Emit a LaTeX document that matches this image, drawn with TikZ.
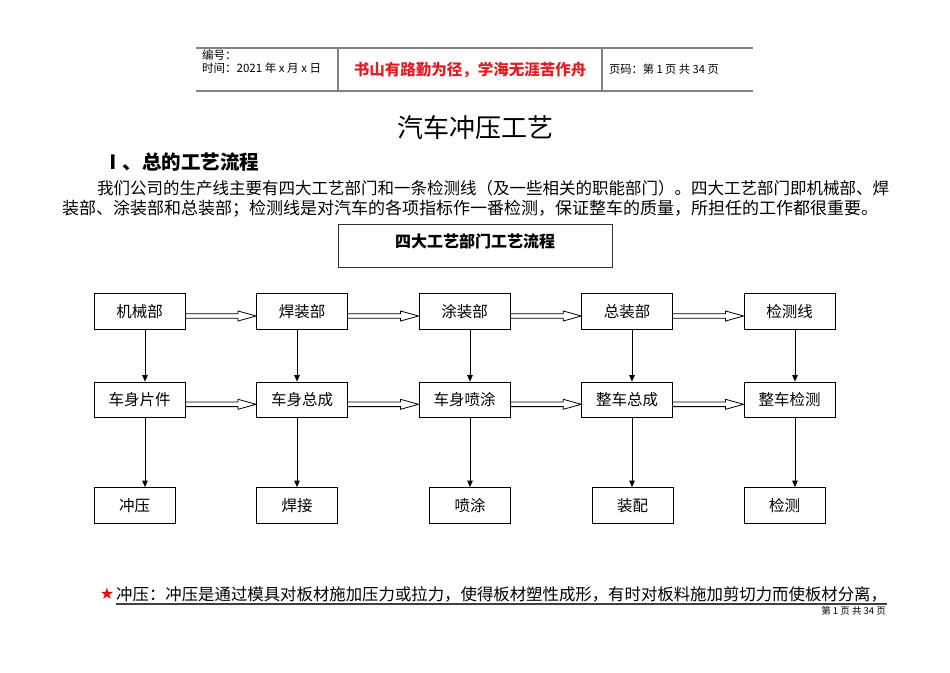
\documentclass[tikz,border=0pt]{standalone}
\usepackage{fontspec}
\setmainfont{Noto Sans CJK SC}
\newfontfamily\symfont{DejaVu Sans}
\usepackage{xcolor}
\usepackage{tikz}
\usetikzlibrary{calc, positioning, arrows.meta}
\definecolor{mottoRed}{RGB}{222,32,38}
\definecolor{ruleGray}{RGB}{130,130,130}
\tikzset{
    dept/.style={rectangle, draw=black, line width=0.9pt, fill=white, minimum width=91pt, minimum height=35.5pt, inner sep=0pt, font=\fontsize{15.5}{18}\selectfont},
    task/.style={dept, minimum width=81pt},
    headbox/.style={rectangle, draw=black!80, line width=1pt, minimum width=274pt, minimum height=43pt, inner sep=0pt, font=\bfseries\fontsize{16}{19}\selectfont},
    down/.style={-{Triangle[length=6.5pt, width=5.5pt]}, line width=0.8pt},
    hollow/.style={draw=black, line width=0.8pt},
    rule/.style={draw=ruleGray, line width=1.3pt},
    para/.style={anchor=west, inner sep=0pt},
    uline/.style={draw=black!75, line width=1.2pt}
}
% outline arrow from one box to the next one in a row
\newcommand{\hollowarrow}[2]{%
    \draw[hollow] ($(#1.east)+(0,2.2)$) -- ($(#2.west)+(-18,2.2)$) -- ($(#2.west)+(-18,-0.5)$)
        -- ($(#2.west)+(0,4.5)$) -- ($(#2.west)+(-18,9.5)$) -- ($(#2.west)+(-18,6.8)$) -- ($(#1.east)+(0,6.8)$);}

\begin{document}
\begin{tikzpicture}[x=1pt, y=-1pt]
        \useasboundingbox (0,0) rectangle (950,672);

        % Header
        \draw[rule] (196,48) -- (753,48);
        \draw[rule] (196,91) -- (753,91);
        \draw[rule] (338,48) -- (338,91);
        \draw[rule] (602,48) -- (602,91);
        \node[para, align=left, font=\fontsize{11.5}{13}\selectfont] (Serial) at (202,61.5) {编号：\\时间：2021 年 x 月 x 日};
        \node[font=\bfseries\fontsize{15.5}{18}\selectfont, text=mottoRed] (Motto) at (470,70) {书山有路勤为径，学海无涯苦作舟};
        \node[para, font=\fontsize{11.2}{13}\selectfont] (PageNo) at (609,69) {页码：第 1 页 共 34 页};

        % Title and heading
        \node[font=\fontsize{26}{30}\selectfont] (Title) at (475,128) {汽车冲压工艺};
        \node[para, font=\bfseries\fontsize{19.5}{23}\selectfont] (Section) at (103,162) {Ⅰ、总的工艺流程};
        \node[para, font=\fontsize{16.5}{20}\selectfont] (LineA) at (97,188) {我们公司的生产线主要有四大工艺部门和一条检测线（及一些相关的职能部门）。四大工艺部门即机械部、焊};
        \node[para, font=\fontsize{17}{20}\selectfont] (LineB) at (62,209) {装部、涂装部和总装部；检测线是对汽车的各项指标作一番检测，保证整车的质量，所担任的工作都很重要。};

        % Flow chart
        \node[headbox, text depth=9pt] (ChartTitle) at (475,245.5) {四大工艺部门工艺流程};

        \node[dept] (Machining) at (139.5,311.5) {机械部};
        \node[dept] (Welding) at (302,311.5) {焊装部};
        \node[dept] (Painting) at (464.5,311.5) {涂装部};
        \node[dept] (Assembly) at (627.2,311.5) {总装部};
        \node[dept] (Inspection) at (789.5,311.5) {检测线};

        \node[dept] (BodyParts) at (139.5,399.8) {车身片件};
        \node[dept] (BodyAssy) at (302,399.8) {车身总成};
        \node[dept] (BodyPaint) at (464.5,399.8) {车身喷涂};
        \node[dept] (CarAssy) at (627.2,399.8) {整车总成};
        \node[dept] (CarCheck) at (789.5,399.8) {整车检测};

        \node[task] (Stamping) at (134.7,505.3) {冲压};
        \node[task] (Weld) at (297,505.3) {焊接};
        \node[task] (Spray) at (470,505.3) {喷涂};
        \node[task] (Fitting) at (632.5,505.3) {装配};
        \node[task] (Test) at (784.5,505.3) {检测};

        \coordinate (ColA) at (145,0);
        \coordinate (ColB) at (297,0);
        \coordinate (ColC) at (470,0);
        \coordinate (ColD) at (632,0);
        \coordinate (ColE) at (795,0);

        % Connections
        \hollowarrow{Machining}{Welding}
        \hollowarrow{Welding}{Painting}
        \hollowarrow{Painting}{Assembly}
        \hollowarrow{Assembly}{Inspection}

        \hollowarrow{BodyParts}{BodyAssy}
        \hollowarrow{BodyAssy}{BodyPaint}
        \hollowarrow{BodyPaint}{CarAssy}
        \hollowarrow{CarAssy}{CarCheck}

        \draw[down] (Machining.south -| ColA) -- (BodyParts.north -| ColA);
        \draw[down] (Welding.south -| ColB) -- (BodyAssy.north -| ColB);
        \draw[down] (Painting.south -| ColC) -- (BodyPaint.north -| ColC);
        \draw[down] (Assembly.south -| ColD) -- (CarAssy.north -| ColD);
        \draw[down] (Inspection.south -| ColE) -- (CarCheck.north -| ColE);

        \draw[down] (BodyParts.south -| ColA) -- (Stamping.north -| ColA);
        \draw[down] (BodyAssy.south -| ColB) -- (Weld.north -| ColB);
        \draw[down] (BodyPaint.south -| ColC) -- (Spray.north -| ColC);
        \draw[down] (CarAssy.south -| ColD) -- (Fitting.north -| ColD);
        \draw[down] (CarCheck.south -| ColE) -- (Test.north -| ColE);

        % Stamping note
        \node[font=\symfont\fontsize{16}{18}\selectfont, text=red, inner sep=0pt] (Star) at (107,594) {★};
        \node[para, font=\fontsize{16.4}{20}\selectfont] (Note) at (116,594) {冲压：冲压是通过模具对板材施加压力或拉力，使得板材塑性成形，有时对板料施加剪切力而使板材分离，};
        \draw[uline] ([yshift=-2pt]Note.south west) -- ([yshift=-2pt]Note.south east);
        \node[font=\fontsize{9.5}{11}\selectfont, anchor=east, inner sep=0pt] (Footer) at (886,611) {第 1 页 共 34 页};
\end{tikzpicture}
\end{document}
